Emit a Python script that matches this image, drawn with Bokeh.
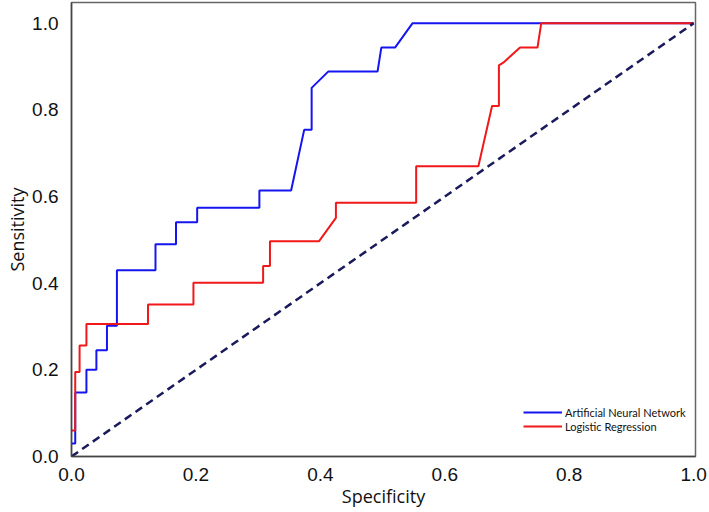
from bokeh.plotting import figure
from bokeh.models import Range1d, Legend, LegendItem, FixedTicker
from bokeh.embed import file_html
from bokeh.resources import INLINE

# ANN ROC curve (specificity axis as drawn, sensitivity)
ann_x = [0.0, 0.006, 0.006, 0.024, 0.024, 0.040, 0.040, 0.057, 0.057, 0.073, 0.073,
         0.135, 0.135, 0.168, 0.168, 0.202, 0.202, 0.302, 0.302, 0.353, 0.374, 0.386,
         0.386, 0.413, 0.492, 0.498, 0.520, 0.548, 1.0]
ann_y = [0.03, 0.03, 0.148, 0.148, 0.200, 0.200, 0.245, 0.245, 0.302, 0.302, 0.430,
         0.430, 0.490, 0.490, 0.541, 0.541, 0.574, 0.574, 0.614, 0.614, 0.754, 0.754,
         0.851, 0.889, 0.889, 0.944, 0.944, 1.0, 1.0]

# Logistic regression ROC curve
lr_x = [0.0, 0.006, 0.006, 0.013, 0.013, 0.024, 0.024, 0.123, 0.123, 0.196, 0.196,
        0.308, 0.308, 0.319, 0.319, 0.398, 0.425, 0.425, 0.554, 0.554, 0.654, 0.676,
        0.687, 0.687, 0.694, 0.721, 0.749, 0.755, 1.0]
lr_y = [0.06, 0.06, 0.195, 0.195, 0.256, 0.256, 0.306, 0.306, 0.351, 0.351, 0.401,
        0.401, 0.440, 0.440, 0.497, 0.497, 0.551, 0.586, 0.586, 0.670, 0.670, 0.809,
        0.809, 0.903, 0.909, 0.944, 0.944, 1.0, 1.0]

ref_x = [0.0, 1.0]
ref_y = [0.0, 1.0]

ticks = [0.0, 0.2, 0.4, 0.6, 0.8, 1.0]
tick_labels = ["0.0", "0.2", "0.4", "0.6", "0.8", "1.0"]
series_names = ["Artificial Neural Network", "Logistic Regression"]

p = figure(width=709, height=512, output_backend="svg", toolbar_location=None,
           x_range=Range1d(0, 1.003), y_range=Range1d(0, 1.048),
           min_border_left=71, min_border_right=14, min_border_top=2, min_border_bottom=56)

p.background_fill_color = "white"
p.border_fill_color = "white"
p.outline_line_color = "#666666"
p.outline_line_width = 1.5
p.xgrid.visible = False
p.ygrid.visible = False

for ax in (p.xaxis[0], p.yaxis[0]):
    ax.ticker = FixedTicker(ticks=ticks)
    ax.major_label_overrides = {t: s for t, s in zip(ticks, tick_labels)}
    ax.major_tick_line_color = None
    ax.minor_tick_line_color = None
    ax.axis_line_color = "#444444"
    ax.axis_line_width = 1.5
    ax.major_label_text_font = "Liberation Sans"
    ax.major_label_text_font_size = "19px"
    ax.major_label_text_color = "#111111"
    ax.axis_label_text_font = "Open Sans"
    ax.axis_label_text_font_style = "normal"
    ax.axis_label_text_font_size = "18px"
    ax.axis_label_text_color = "#111111"

p.xaxis[0].axis_label = "Specificity"
p.yaxis[0].axis_label = "Sensitivity"
p.xaxis[0].major_label_standoff = 5
p.yaxis[0].major_label_standoff = 7
p.xaxis[0].axis_label_standoff = 0
p.yaxis[0].axis_label_standoff = 0

r_ann = p.line(ann_x, ann_y, line_color="#1515f0", line_width=2)
r_lr = p.line(lr_x, lr_y, line_color="#f01818", line_width=2)
p.line(ref_x, ref_y, line_color="#1a1a5c", line_width=2.5, line_dash="8 5")

legend = Legend(items=[LegendItem(label=series_names[0], renderers=[r_ann]),
                       LegendItem(label=series_names[1], renderers=[r_lr])],
                location=(452, 23), padding=0, margin=0, spacing=0,
                glyph_width=39, glyph_height=14, label_height=14,
                label_standoff=3, label_text_font="Lato",
                label_text_font_size="11px", label_text_color="#111111",
                border_line_color=None, background_fill_alpha=0)
p.add_layout(legend)

open("out.html", "w").write(file_html(p, INLINE))
